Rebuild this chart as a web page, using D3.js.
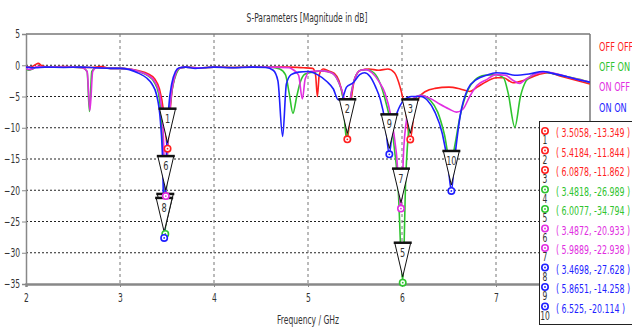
<!DOCTYPE html>
<html>
<head>
<meta charset="utf-8">
<script src="https://cdn.jsdelivr.net/npm/d3@7"></script>
<style>
  html, body { margin: 0; padding: 0; background: #fff; }
  svg { display: block; }
  text { font-family: 'DejaVu Sans Condensed', 'DejaVu Sans', sans-serif; }
</style>
</head>
<body>
<div id="chart"></div>
<script>
// series names and colours
const seriesNames = ["OFF OFF", "OFF ON", "ON OFF", "ON ON"];
const seriesColors = ["#ff1f1f", "#2fc42f", "#e12ee1", "#1f1fff"];

// [frequency GHz, magnitude dB]
const offOff = [[2.0,-0.3],[2.05,-0.3],[2.1,0.1],[2.13,0.3],[2.17,-0.1],[2.25,-0.3],[2.4,-0.2],[2.55,-0.3],[2.7,-0.35],[2.8,-0.2],[2.9,-0.5],[3.0,-0.5],[3.1,-0.6],[3.2,-0.9],[3.3,-1.4],[3.37,-2.2],[3.42,-3.8],[3.46,-7],[3.49,-11.5],[3.5058,-13.349],[3.525,-9],[3.55,-4.5],[3.59,-1.5],[3.64,-0.4],[3.7,-0.3],[3.85,-0.4],[4.0,-0.3],[4.2,-0.35],[4.4,-0.3],[4.6,-0.3],[4.8,-0.3],[4.95,-0.4],[5.05,-0.5],[5.08,-1.5],[5.1,-5],[5.12,-1.5],[5.16,-0.6],[5.22,-0.9],[5.28,-1.3],[5.33,-2.5],[5.37,-5],[5.4184,-11.844],[5.46,-5.5],[5.5,-2],[5.56,-0.8],[5.65,-0.6],[5.75,-0.8],[5.85,-0.6],[5.92,-1.2],[5.98,-3.5],[6.04,-7.5],[6.0878,-11.862],[6.13,-7.5],[6.18,-5.2],[6.25,-4.2],[6.35,-3.7],[6.5,-3.5],[6.62,-3.8],[6.72,-4.2],[6.8,-3.5],[6.9,-2.6],[7.0,-2.0],[7.08,-2.0],[7.18,-2.8],[7.3,-2.4],[7.45,-1.5],[7.55,-1.2],[7.7,-1.8],[7.85,-2.4],[8.0,-3.0]];
const offOn = [[2.0,-0.5],[2.03,-0.8],[2.07,-0.6],[2.12,-0.2],[2.2,-0.3],[2.35,-0.3],[2.5,-0.3],[2.6,-0.4],[2.65,-1],[2.675,-7.4],[2.7,-1],[2.75,-0.4],[2.9,-0.5],[3.0,-0.5],[3.1,-0.6],[3.2,-1.0],[3.3,-1.7],[3.36,-2.6],[3.41,-4.5],[3.44,-9],[3.47,-20],[3.4818,-26.989],[3.5,-16],[3.53,-7],[3.56,-3.5],[3.6,-1.3],[3.65,-0.4],[3.7,-0.3],[3.85,-0.4],[4.0,-0.3],[4.2,-0.35],[4.4,-0.3],[4.6,-0.3],[4.7,-0.6],[4.76,-1.5],[4.8,-4.5],[4.84,-7.7],[4.88,-5],[4.92,-2.6],[4.97,-1.4],[5.05,-1.1],[5.15,-0.9],[5.25,-1.2],[5.32,-2.5],[5.37,-5],[5.41,-12],[5.45,-5.5],[5.5,-2],[5.56,-0.8],[5.62,-0.7],[5.7,-1.2],[5.77,-3],[5.83,-6],[5.9,-11],[5.96,-20],[6.0077,-34.794],[6.04,-18],[6.08,-9],[6.13,-5.5],[6.2,-4.8],[6.3,-5.6],[6.38,-7.5],[6.45,-11],[6.52,-16],[6.56,-13],[6.62,-8],[6.7,-4],[6.78,-2.3],[6.88,-1.6],[7.0,-1.5],[7.08,-2],[7.13,-4.5],[7.2,-9.9],[7.26,-5],[7.32,-2.5],[7.4,-1.5],[7.5,-1.1],[7.6,-1.3],[7.75,-1.8],[7.9,-2.3],[8.0,-2.8]];
const onOff = [[2.0,-0.5],[2.03,-0.7],[2.08,-0.5],[2.12,-0.2],[2.2,-0.3],[2.35,-0.3],[2.5,-0.3],[2.6,-0.4],[2.65,-1],[2.68,-7.2],[2.71,-1],[2.75,-0.4],[2.9,-0.5],[3.0,-0.5],[3.1,-0.6],[3.2,-1.0],[3.3,-1.6],[3.37,-2.6],[3.42,-4.5],[3.455,-9],[3.4872,-20.933],[3.51,-12],[3.54,-5.5],[3.58,-2],[3.63,-0.5],[3.7,-0.3],[3.85,-0.4],[4.0,-0.3],[4.2,-0.35],[4.4,-0.3],[4.6,-0.3],[4.8,-0.4],[4.85,-0.8],[4.9,-1.6],[4.94,-5.4],[4.97,-2.2],[5.02,-1.0],[5.15,-0.9],[5.25,-1.2],[5.33,-2.8],[5.38,-5],[5.42,-8],[5.46,-4.5],[5.5,-2],[5.56,-0.8],[5.62,-0.7],[5.68,-1.2],[5.75,-2.5],[5.82,-4.5],[5.88,-8],[5.94,-14],[5.9889,-22.938],[6.02,-13],[6.07,-7],[6.12,-5.3],[6.2,-4.8],[6.3,-5.3],[6.4,-6.2],[6.5,-7],[6.58,-7.5],[6.65,-7],[6.72,-5],[6.8,-3.2],[6.9,-2.3],[7.0,-1.5],[7.1,-1.6],[7.18,-2.4],[7.25,-2.9],[7.32,-2.2],[7.42,-1.4],[7.52,-1.1],[7.65,-1.4],[7.8,-2],[8.0,-2.7]];
const onOn = [[2.0,-0.3],[2.1,-0.4],[2.2,-0.3],[2.4,-0.35],[2.6,-0.3],[2.75,-0.4],[2.9,-0.5],[3.0,-0.5],[3.1,-0.7],[3.2,-1.3],[3.28,-2.0],[3.34,-3.0],[3.39,-4.8],[3.43,-9],[3.455,-16],[3.4698,-27.628],[3.49,-16],[3.52,-6.5],[3.55,-3],[3.59,-1],[3.63,-0.4],[3.7,-0.3],[3.8,-0.5],[3.9,-0.4],[4.0,-0.3],[4.2,-0.4],[4.4,-0.3],[4.55,-0.35],[4.63,-0.8],[4.68,-2.5],[4.73,-11.4],[4.77,-3],[4.82,-1.5],[4.9,-1.1],[5.0,-1.0],[5.1,-1.5],[5.2,-2.6],[5.27,-3.8],[5.32,-5.5],[5.36,-5.4],[5.41,-3.5],[5.48,-2.8],[5.55,-1.5],[5.6,-1.2],[5.66,-1.8],[5.72,-3.5],[5.77,-5.5],[5.82,-9],[5.8651,-14.258],[5.9,-10],[5.95,-7.5],[6.02,-5.6],[6.1,-5.0],[6.2,-5.0],[6.27,-5.6],[6.35,-7.5],[6.43,-11],[6.49,-16],[6.525,-20.114],[6.56,-15],[6.62,-8],[6.7,-3.8],[6.8,-2.2],[6.9,-1.6],[7.0,-1.2],[7.1,-1.3],[7.2,-1.6],[7.35,-1.4],[7.5,-1.0],[7.6,-1.3],[7.75,-1.8],[7.9,-2.4],[8.0,-2.7]];
const allSeries = [offOff, offOn, onOff, onOn];

// markers: label, series index, frequency, dB
const markerLabels = ["1","2","3","4","5","6","7","8","9","10"];
const markerSeries = [0, 0, 0, 1, 1, 2, 2, 3, 3, 3];
const markerFreq = [3.5058, 5.4184, 6.0878, 3.4818, 6.0077, 3.4872, 5.9889, 3.4698, 5.8651, 6.525];
const markerDb = [-13.349, -11.844, -11.862, -26.989, -34.794, -20.933, -22.938, -27.628, -14.258, -20.114];

const xTicks = [2, 3, 4, 5, 6, 7];
const yTicks = [5, 0, -5, -10, -15, -20, -25, -30, -35];

const W = 632, H = 327;
const mLeft = 26, mRight = 590, mTop = 34, mBottom = 284;

const svg = d3.select("#chart").append("svg")
  .attr("width", W)
  .attr("height", H);

const x = d3.scaleLinear().domain([2, 8]).range([mLeft, mRight]);
const y = d3.scaleLinear().domain([5, -35]).range([mTop, mBottom]);

// grid
svg.append("g").selectAll("line")
  .data(yTicks.filter(d => d < 5 && d > -35))
  .join("line")
  .attr("x1", mLeft).attr("x2", mRight)
  .attr("y1", d => y(d)).attr("y2", d => y(d))
  .attr("stroke", "#222").attr("stroke-width", 1)
  .attr("stroke-dasharray", "2,2");

svg.append("g").selectAll("line")
  .data(xTicks.filter(d => d > 2))
  .join("line")
  .attr("x1", d => x(d)).attr("x2", d => x(d))
  .attr("y1", mTop).attr("y2", mBottom)
  .attr("stroke", "#777").attr("stroke-width", 1)
  .attr("stroke-dasharray", "3,3");

// frame
svg.append("line").attr("x1", mLeft).attr("x2", mRight).attr("y1", mTop).attr("y2", mTop)
  .attr("stroke", "#777").attr("stroke-width", 1.5);
svg.append("line").attr("x1", mRight).attr("x2", mRight).attr("y1", mTop).attr("y2", mBottom)
  .attr("stroke", "#777").attr("stroke-width", 1.5);

// axes
const yAxis = svg.append("g")
  .attr("transform", "translate(" + mLeft + ",0)")
  .call(d3.axisLeft(y).tickValues(yTicks).tickSize(4).tickPadding(2).tickFormat(d3.format("d")));
const xAxis = svg.append("g")
  .attr("transform", "translate(0," + mBottom + ")")
  .call(d3.axisBottom(x).tickValues(xTicks).tickSize(3).tickPadding(6).tickFormat(d3.format("d")));

[yAxis, xAxis].forEach(a => {
  a.select(".domain").attr("stroke", "#888").attr("stroke-width", 1.5);
  a.selectAll(".tick line").attr("stroke", "#888");
  a.selectAll("text").attr("fill", "#333").attr("font-size", 12)
    .attr("font-family", "'DejaVu Sans Condensed', 'DejaVu Sans', sans-serif");
});
xAxis.select(".domain").attr("stroke-width", 2.5);

// clip
svg.append("clipPath").attr("id", "plot-clip")
  .append("rect").attr("x", mLeft).attr("y", mTop - 2).attr("width", mRight - mLeft).attr("height", mBottom - mTop + 2);

const line = d3.line()
  .x(d => x(d[0]))
  .y(d => y(d[1]))
  .curve(d3.curveMonotoneX);

svg.append("g").attr("clip-path", "url(#plot-clip)")
  .selectAll("path")
  .data(allSeries)
  .join("path")
  .attr("d", line)
  .attr("fill", "none")
  .attr("stroke", (d, i) => seriesColors[i])
  .attr("stroke-width", 1.6);

// marker triangles
const markers = markerLabels.map((label, i) => ({
  label: label, s: markerSeries[i], f: markerFreq[i], v: markerDb[i]
}));

const triH = 34, triW = 16;
const mg = svg.append("g");
markers.forEach(m => {
  const px = x(m.f), py = y(m.v);
  const tipY = py - 6, topY = tipY - triH;
  const g = mg.append("g");
  g.append("path")
    .attr("d", "M" + (px - triW / 2) + "," + topY + "L" + (px + triW / 2) + "," + topY + "L" + px + "," + tipY + "Z")
    .attr("fill", "#fff").attr("stroke", "#111").attr("stroke-width", 1);
  g.append("line")
    .attr("x1", px - triW / 2 - 1).attr("x2", px + triW / 2 + 1)
    .attr("y1", topY).attr("y2", topY)
    .attr("stroke", "#111").attr("stroke-width", 2.5);
  g.append("text")
    .attr("x", px).attr("y", topY + 14)
    .attr("text-anchor", "middle")
    .attr("font-size", 13).attr("fill", "#333")
    .text(m.label);
});

// marker circles
function drawMarkerDot(g, cx, cy, color) {
  g.append("circle").attr("cx", cx).attr("cy", cy).attr("r", 3.2)
    .attr("fill", "#fff").attr("stroke", color).attr("stroke-width", 1.6);
  g.append("circle").attr("cx", cx).attr("cy", cy).attr("r", 0.9)
    .attr("fill", color);
}
markers.forEach(m => drawMarkerDot(mg, x(m.f), y(m.v), seriesColors[m.s]));

// title and axis label
svg.append("text")
  .attr("x", 307).attr("y", 22)
  .attr("text-anchor", "middle")
  .attr("font-size", 12).attr("fill", "#333")
  .text("S-Parameters [Magnitude in dB]");

svg.append("text")
  .attr("x", 308).attr("y", 324)
  .attr("text-anchor", "middle")
  .attr("font-size", 12).attr("fill", "#333")
  .text("Frequency / GHz");

// series legend
svg.append("g").selectAll("text")
  .data(seriesNames)
  .join("text")
  .attr("x", 599)
  .attr("y", (d, i) => 51 + i * 20.2)
  .attr("font-size", 13)
  .attr("fill", (d, i) => seriesColors[i])
  .text(d => d);

// marker value table
const table = svg.append("g");
table.append("rect")
  .attr("x", 539.5).attr("y", 121.5).attr("width", 100).attr("height", 203)
  .attr("fill", "#fff").attr("stroke", "#222").attr("stroke-width", 1);

markers.forEach((m, i) => {
  const cy = 131 + i * 19.5;
  const color = seriesColors[m.s];
  drawMarkerDot(table, 545, cy, color);
  table.append("text")
    .attr("x", 545).attr("y", cy + 13)
    .attr("text-anchor", "middle")
    .attr("font-size", 12).attr("fill", "#333")
    .text(m.label);
  table.append("text")
    .attr("x", 556).attr("y", cy + 6)
    .attr("font-size", 12.5).attr("fill", color)
    .text("( " + m.f + ", " + m.v + " )");
});

// the original uses a narrow face: squeeze every text horizontally
svg.selectAll("text").each(function () {
  const len = this.getComputedTextLength();
  d3.select(this)
    .attr("textLength", len * 0.7)
    .attr("lengthAdjust", "spacingAndGlyphs");
});
</script>
</body>
</html>
